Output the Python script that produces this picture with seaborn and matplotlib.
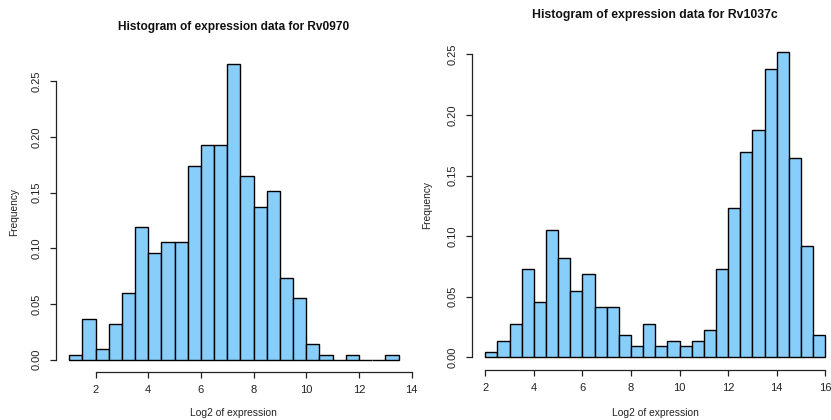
import numpy as np
import pandas as pd
import matplotlib
matplotlib.use("Agg")
import matplotlib.pyplot as plt
import seaborn as sns

sns.set_style("white")
plt.rcParams['font.family'] = ['Liberation Sans', 'DejaVu Sans']

# ---- data ----
titles = ["Histogram of expression data for Rv0970", "Histogram of expression data for Rv1037c"]
xlabel = "Log2 of expression"
ylabel = "Frequency"

left_start, left_width = 1.0, 0.5
left_heights = [0.0046, 0.0366, 0.0092, 0.0320, 0.0595, 0.1190, 0.0961, 0.1053, 0.1053,
                0.1739, 0.1922, 0.1922, 0.2654, 0.1648, 0.1373, 0.1510, 0.0732, 0.0549,
                0.0137, 0.0046, 0.0, 0.0046, 0.0, 0.0, 0.0046]
left_xticks = [2, 4, 6, 8, 10, 12, 14]
left_yticks = [0.00, 0.05, 0.10, 0.15, 0.20, 0.25]

right_start, right_width = 2.0, 0.5
right_heights = [0.0046, 0.0137, 0.0275, 0.0732, 0.0458, 0.1053, 0.0824, 0.0549, 0.0686,
                 0.0412, 0.0412, 0.0183, 0.0092, 0.0275, 0.0092, 0.0137, 0.0092, 0.0137,
                 0.0229, 0.0732, 0.1236, 0.1693, 0.1876, 0.2380, 0.2517, 0.1648, 0.0915,
                 0.0183]
right_xticks = [2, 4, 6, 8, 10, 12, 14, 16]
right_yticks = [0.00, 0.05, 0.10, 0.15, 0.20, 0.25]

fig = plt.figure(figsize=(8.31, 4.20), dpi=100)
W, H = 831, 420

def px_axes(x0, x1, y0, y1):
    return fig.add_axes([x0 / W, 1 - y1 / H, (x1 - x0) / W, (y1 - y0) / H])

panels = [
    dict(ax=px_axes(56.0, 411.7, 52.1, 371.5), start=left_start, width=left_width,
         heights=left_heights, xticks=left_xticks, yticks=left_yticks, title=titles[0],
         title_y=26.7, title_size=8.6, ylab_x=13.8, xlab_y=413.3),
    dict(ax=px_axes(471.7, 838.9, 40.1, 369.6), start=right_start, width=right_width,
         heights=right_heights, xticks=right_xticks, yticks=right_yticks, title=titles[1],
         title_y=15.0, title_size=8.85, ylab_x=427.0, xlab_y=413.3),
]

for p in panels:
    ax = p["ax"]
    n = len(p["heights"])
    lo = p["start"]
    hi = p["start"] + p["width"] * n
    centers = lo + p["width"] * (np.arange(n) + 0.5)
    df = pd.DataFrame({"x": centers, "w": p["heights"]})
    sns.histplot(data=df, x="x", weights="w", binwidth=p["width"], binrange=(lo, hi),
                 stat="count", ax=ax, color="#87CEFA", alpha=1.0,
                 edgecolor="black", linewidth=1.0)
    pad = (hi - lo) * 0.04
    ax.set_xlim(lo - pad, hi + pad)
    ymax = max(p["heights"])
    ax.set_ylim(-ymax * 0.04, ymax * 1.04)
    ax.set_xticks(p["xticks"])
    ax.set_yticks(p["yticks"])
    ax.set_xticklabels([str(t) for t in p["xticks"]])
    ax.set_yticklabels([f"{t:.2f}" for t in p["yticks"]], rotation=90, va="center")
    for s in ["top", "right"]:
        ax.spines[s].set_visible(False)
    ax.spines["left"].set_bounds(p["yticks"][0], p["yticks"][-1])
    ax.spines["bottom"].set_bounds(p["xticks"][0], p["xticks"][-1])
    for s in ["left", "bottom"]:
        ax.spines[s].set_color("#222222")
        ax.spines[s].set_linewidth(0.9)
    ax.tick_params(axis="both", which="both", direction="out", length=4.5, width=0.9,
                   color="#222222", labelsize=8, labelcolor="#222222", pad=5,
                   left=True, bottom=True)
    ax.tick_params(axis="y", pad=5.5)
    ax.set_xlabel("")
    ax.set_ylabel("")
    ax.grid(False)
    ax.patch.set_alpha(0)
    bb = ax.get_position()
    cx = (bb.x0 + bb.x1) / 2
    fig.text(cx, 1 - p["title_y"] / H, p["title"], ha="center", va="center",
             fontsize=p["title_size"], fontweight="bold", color="#111111")
    fig.text(cx, 1 - p["xlab_y"] / H, xlabel, ha="center", va="center", fontsize=7.4,
             color="#222222")
    fig.text(p["ylab_x"] / W, (bb.y0 + bb.y1) / 2, ylabel, ha="center", va="center",
             rotation=90, fontsize=7.3, color="#222222")

fig.savefig("out.png", dpi=100)
